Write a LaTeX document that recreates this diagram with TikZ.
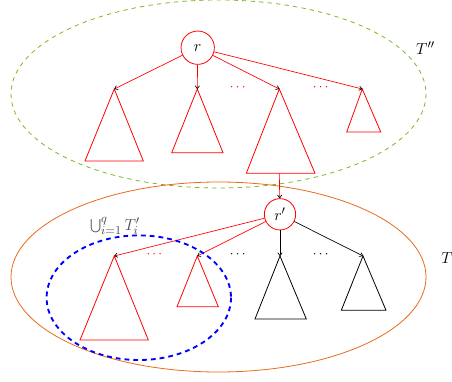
\documentclass[tikz,border=0pt]{standalone}
\usetikzlibrary{arrows.meta}
\definecolor{ygreen}{RGB}{122,184,30}
\definecolor{orng}{RGB}{232,106,26}
\begin{document}
\begin{tikzpicture}[x=0.75pt,y=-0.75pt,
  every node/.style={font=\fontsize{12.5}{14}\selectfont},
  edge/.style={line width=0.5pt,-{To[black,length=2.6pt,width=3.6pt]}},
  tri/.style={line width=0.6pt},
  root/.style={circle,draw=red,line width=0.6pt,inner sep=0pt},
  dots/.style={inner sep=0pt}]
\useasboundingbox (0,0) rectangle (452,381);
% ellipses
\draw[ygreen,line width=0.6pt,dash pattern=on 3.2pt off 3.2pt] (218.5,94) ellipse [x radius=207.5, y radius=94];
\draw[orng,line width=0.6pt] (218.5,277) ellipse [x radius=207.5, y radius=95];
% upper tree
\node[root,minimum size=25pt] (r) at (197.7,47.7) {$r$};
\coordinate (a1) at (114.3,89);
\coordinate (a2) at (197.3,89);
\coordinate (a3) at (279.3,89);
\coordinate (a4) at (362.3,89);
\draw[red,tri] (a1) -- (85,161) -- (143.3,161) -- cycle;
\draw[red,tri] (a2) -- (171.7,152.7) -- (223,152.7) -- cycle;
\draw[red,tri] (a3) -- (246.3,173.3) -- (315,173.3) -- cycle;
\draw[red,tri] (a4) -- (346.7,132) -- (380.7,132) -- cycle;
\coordinate (b3) at (279.3,173.3);
\node[dots,red,font=\normalsize] (d1) at (237.7,88) {$\cdots$};
\node[dots,red,font=\normalsize] (d2) at (320.7,88) {$\cdots$};
\draw[red,edge] (r) -- (a1);
\draw[red,edge] (r) -- (a2);
\draw[red,edge] (r) -- (a3);
\draw[red,edge] (r) -- (a4);
\node (Tpp) at (425.6,48) {$T''$};
% lower tree
\node[root,minimum size=23.5pt] (rp) at (280,214.3) {$r'$};
\draw[red,edge] (b3) -- (rp);
\coordinate (c1) at (114.3,256);
\coordinate (c2) at (197.3,256);
\coordinate (c3) at (280,256);
\coordinate (c4) at (363,256);
\draw[red,tri] (c1) -- (80,340) -- (148.3,340) -- cycle;
\draw[red,tri] (c2) -- (177,306.7) -- (218.3,306.7) -- cycle;
\draw[black,tri] (c3) -- (255,319) -- (306.3,319) -- cycle;
\draw[black,tri] (c4) -- (341.3,310.3) -- (386,310.3) -- cycle;
\node[dots,red,font=\normalsize] (e1) at (154.3,255) {$\cdots$};
\node[dots,font=\normalsize] (e2) at (237.7,255) {$\cdots$};
\node[dots,font=\normalsize] (e3) at (320.7,255) {$\cdots$};
\draw[red,edge] (rp) -- (c1);
\draw[red,edge] (rp) -- (c2);
\draw[black,edge] (rp) -- (c3);
\draw[black,edge] (rp) -- (c4);
\node (Tp) at (449,257) {$T'$};
% blue ellipse
\draw[blue,line width=1.4pt,dash pattern=on 3.6pt off 3pt] (138.8,297.7) ellipse [x radius=92.2, y radius=62.3];
\node[text=black!70] (U) at (115,226) {$\bigcup_{i=1}^{q} T'_i$};
\end{tikzpicture}
\end{document}
